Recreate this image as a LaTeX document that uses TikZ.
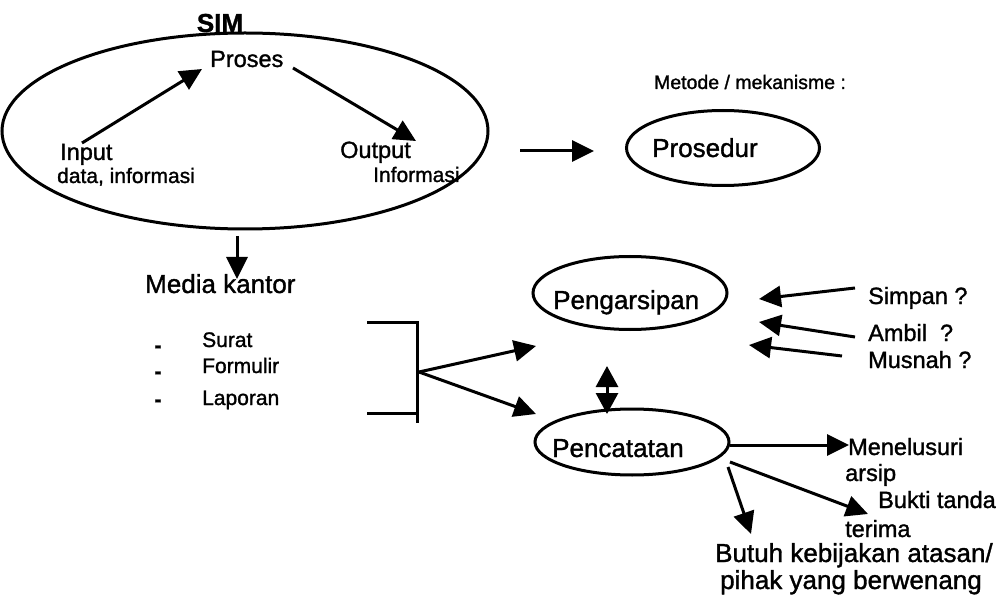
\documentclass[tikz,border=0pt]{standalone}
\usepackage{fontspec}
\setmainfont{Liberation Sans}[FakeBold=1.3]
\usetikzlibrary{arrows.meta,shapes.geometric}
\tikzset{
  arr/.style={line width=3pt,-{Triangle[length=22pt,width=21pt]}},
  darr/.style={line width=3pt,{Triangle[length=21pt,width=22pt]}-{Triangle[length=21pt,width=22pt]}},
  oval/.style={draw,ellipse,line width=3pt,inner sep=0pt},
  txt/.style={inner sep=0pt,anchor=base west,font=\fontsize{23.5}{26}\selectfont},
  big/.style={inner sep=0pt,anchor=base west,font=\fontsize{26}{28}\selectfont},
  sml/.style={inner sep=0pt,anchor=base west,font=\fontsize{21}{22}\selectfont},
  hyph/.style={inner sep=0pt,font=\fontsize{21}{22}\selectfont\bfseries},
}
\begin{document}
\begin{tikzpicture}[x=1pt,y=-1pt]
\useasboundingbox (0,0) rectangle (999,604);
% SIM
\node[inner sep=0pt,anchor=base,font=\fontsize{26}{28}\selectfont\bfseries] (simlbl) at (220,32) {SIM};
\node[oval,minimum width=486pt,minimum height=196pt] (sim) at (245,131) {};
\node[txt] (proses) at (210,67) {Proses};
\node[txt] (input) at (60,160) {Input};
\node[sml] (inputd) at (57,183) {data, informasi};
\node[txt] (output) at (340,158) {Output};
\node[sml] (outputd) at (373,182) {Informasi};
\coordinate (inA) at (82,143);
\coordinate (inB) at (202,69);
\coordinate (outA) at (293,68);
\coordinate (outB) at (416,141);
\draw[arr] (inA) -- (inB);
\draw[arr] (outA) -- (outB);
% Prosedur
\node[inner sep=0pt,anchor=base,font=\fontsize{19.5}{20}\selectfont] (metode) at (750,89) {Metode / mekanisme :};
\node[oval,minimum width=193pt,minimum height=75pt] (prosedur) at (723,148) {};
\node[big] (prosedurt) at (652,157) {Prosedur};
\coordinate (pA) at (520,151);
\coordinate (pB) at (594,151);
\draw[arr] (pA) -- (pB);
% Media kantor
\coordinate (mA) at (237,236);
\coordinate (mB) at (237,279);
\draw[arr] (mA) -- (mB);
\node[big] (media) at (145,293) {Media kantor};
\node[hyph] (d1) at (158,349) {-};
\node[sml] (surat) at (202,347) {Surat};
\node[hyph] (d2) at (158,375) {-};
\node[sml] (formulir) at (202,373) {Formulir};
\node[hyph] (d3) at (158,403) {-};
\node[sml] (laporan) at (202,405) {Laporan};
\coordinate (b1) at (367,322);
\coordinate (b2) at (417,322);
\coordinate (b3) at (417,423);
\coordinate (b4) at (367,413);
\coordinate (b5) at (417,413);
\draw[line width=3pt] (b1) -- (b2) -- (b3);
\draw[line width=3pt] (b4) -- (b5);
\coordinate (fork) at (419,372);
\coordinate (fk1) at (536,346);
\coordinate (fk2) at (536,414);
\draw[arr] (fork) -- (fk1);
\draw[arr] (fork) -- (fk2);
% Pengarsipan
\node[oval,minimum width=194pt,minimum height=73pt] (arsip) at (630,293) {};
\node[big] (arsipt) at (553,309) {Pengarsipan};
\node[txt] (simpan) at (868,304) {Simpan ?};
\node[txt] (ambil) at (868,341) {Ambil\ \ ?};
\node[txt] (musnah) at (868,368) {Musnah ?};
\coordinate (s1) at (855,288);
\coordinate (s2) at (759,299);
\coordinate (a1) at (855,337);
\coordinate (a2) at (759,322);
\coordinate (m1) at (842,356);
\coordinate (m2) at (749,345);
\draw[arr] (s1) -- (s2);
\draw[arr] (a1) -- (a2);
\draw[arr] (m1) -- (m2);
\coordinate (v1) at (607,366);
\coordinate (v2) at (607,414);
\draw[darr] (v1) -- (v2);
% Pencatatan
\node[oval,minimum width=194pt,minimum height=66pt] (catat) at (632,442) {};
\node[big] (catatt) at (552,457) {Pencatatan};
\coordinate (c1) at (730,445);
\coordinate (c2) at (849,445);
\draw[arr] (c1) -- (c2);
\node[txt] (menel) at (848,455) {Menelusuri};
\node[txt] (arsipw) at (845,481) {arsip};
\coordinate (c3) at (730,462);
\coordinate (c4) at (868,514);
\draw[arr] (c3) -- (c4);
\node[txt] (bukti) at (878,508) {Bukti tanda};
\node[txt] (terima) at (845,537) {terima};
\coordinate (c5) at (728,467);
\coordinate (c6) at (751,534);
\draw[arr] (c5) -- (c6);
\node[big] (butuh) at (715,562) {Butuh kebijakan atasan/};
\node[big] (pihak) at (720,589) {pihak yang berwenang};
\end{tikzpicture}
\end{document}
